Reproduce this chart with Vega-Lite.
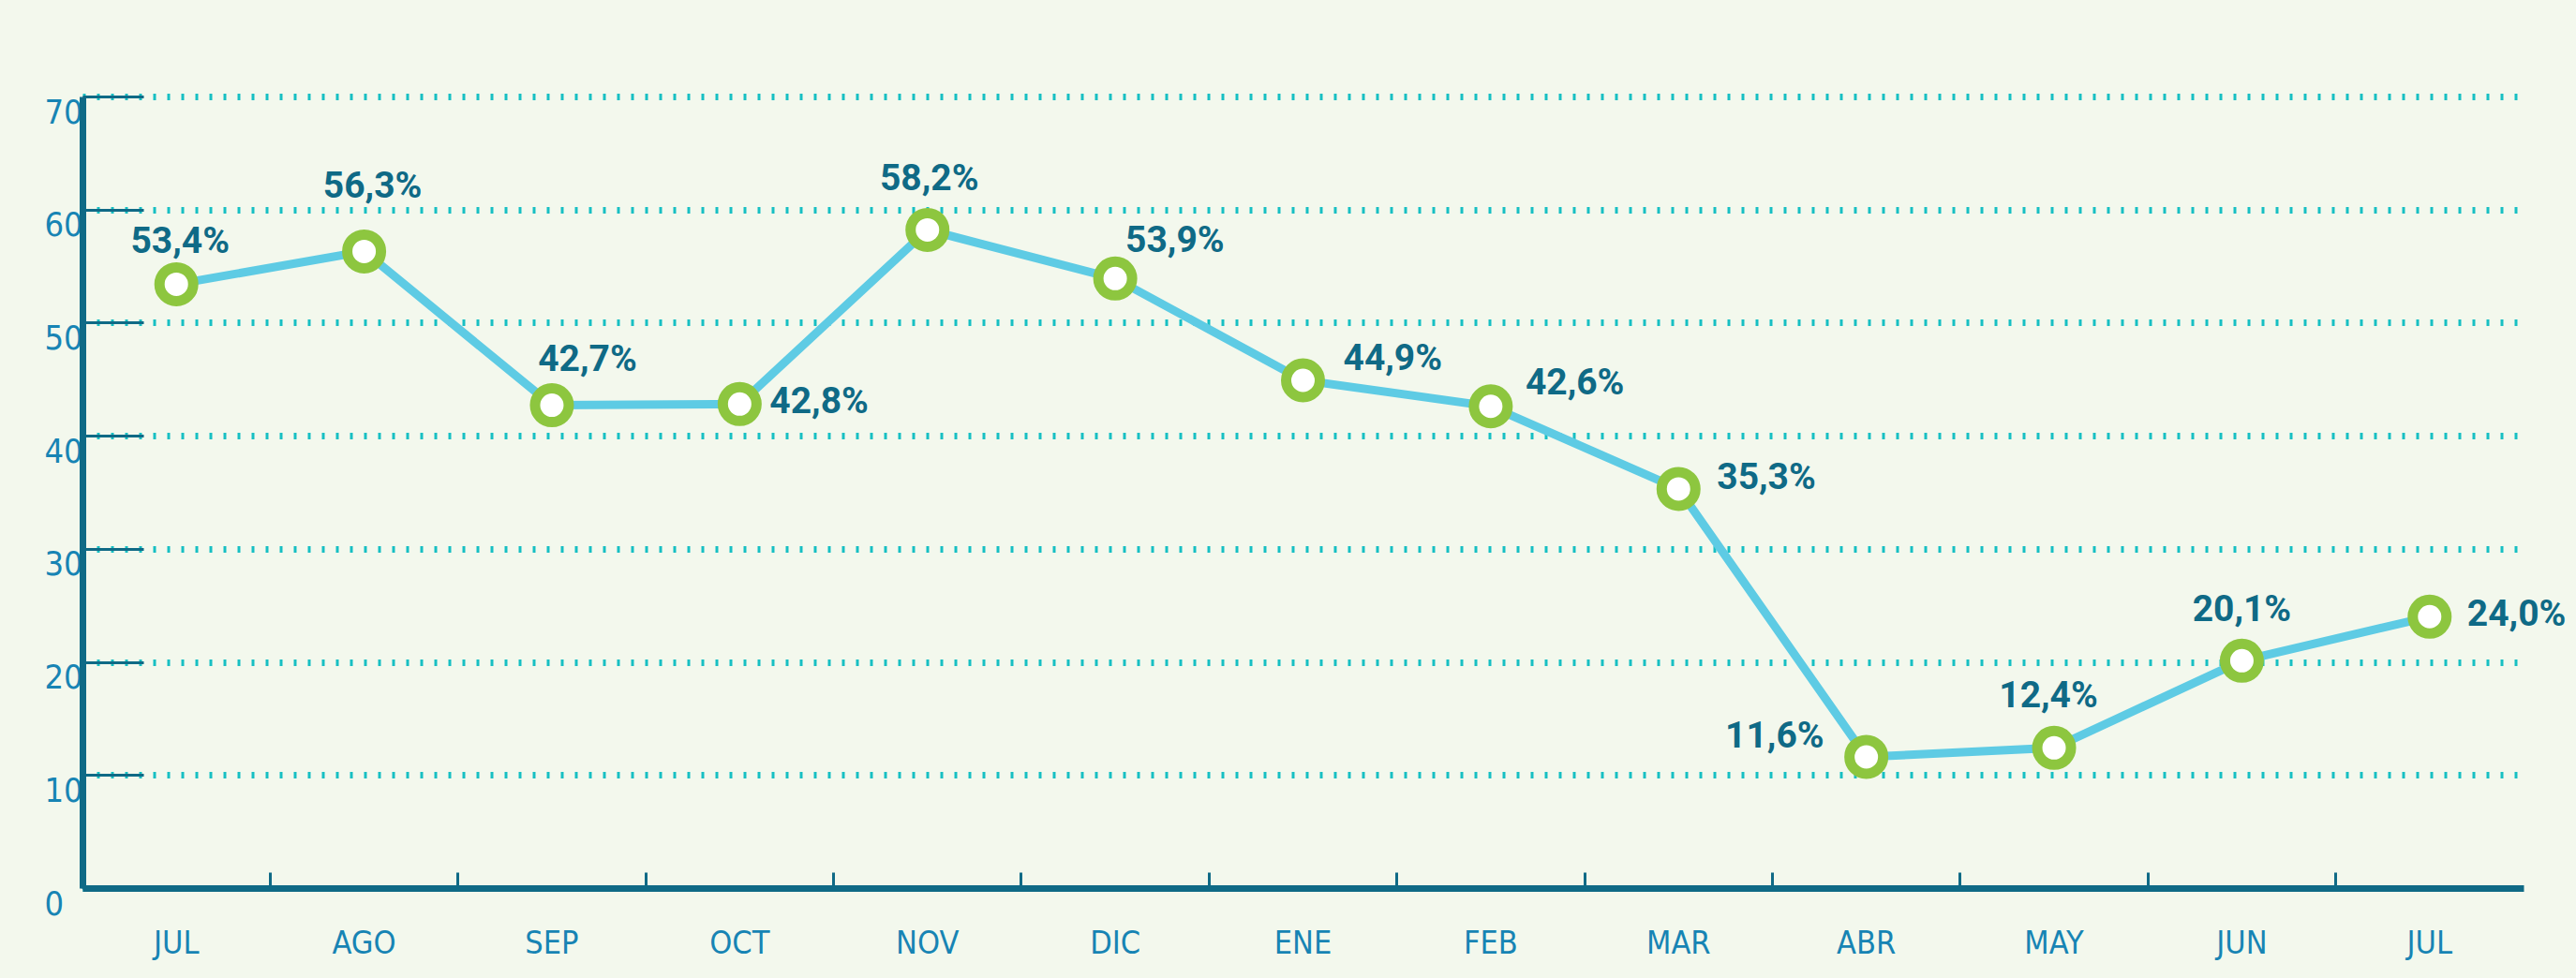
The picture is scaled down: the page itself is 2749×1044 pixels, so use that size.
{
  "$schema": "https://vega.github.io/schema/vega-lite/v6.json",
  "autosize": {"type": "none"},
  "padding": {"left": 88, "top": 103, "right": 56, "bottom": 96},
  "width": 2605,
  "height": 845,
  "background": "#f3f8ed",
  "config": {
    "view": {"stroke": null},
    "text": {"font": "Roboto", "fontWeight": "bold", "fontSize": 39, "fill": "#0f6a86", "baseline": "alphabetic"}
  },
  "data": {
    "values": [
      {"periodo": "JUL 2019", "valor": 53.4, "etiqueta": "53,4%"},
      {"periodo": "AGO 2019", "valor": 56.3, "etiqueta": "56,3%"},
      {"periodo": "SEP 2019", "valor": 42.7, "etiqueta": "42,7%"},
      {"periodo": "OCT 2019", "valor": 42.8, "etiqueta": "42,8%"},
      {"periodo": "NOV 2019", "valor": 58.2, "etiqueta": "58,2%"},
      {"periodo": "DIC 2019", "valor": 53.9, "etiqueta": "53,9%"},
      {"periodo": "ENE 2020", "valor": 44.9, "etiqueta": "44,9%"},
      {"periodo": "FEB 2020", "valor": 42.6, "etiqueta": "42,6%"},
      {"periodo": "MAR 2020", "valor": 35.3, "etiqueta": "35,3%"},
      {"periodo": "ABR 2020", "valor": 11.6, "etiqueta": "11,6%"},
      {"periodo": "MAY 2020", "valor": 12.4, "etiqueta": "12,4%"},
      {"periodo": "JUN 2020", "valor": 20.1, "etiqueta": "20,1%"},
      {"periodo": "JUL 2020", "valor": 24.0, "etiqueta": "24,0%"}
    ]
  },
  "encoding": {
    "x": {
      "field": "periodo", "type": "ordinal", "sort": null, "bandPosition": 0.5,
      "scale": {"type": "band", "paddingInner": 0, "paddingOuter": 0},
      "axis": {
        "title": null, "labelAngle": 0, "bandPosition": 0,
        "labelExpr": "split(datum.value, ' ')[0]",
        "labelFont": "DejaVu Sans Condensed", "labelFontSize": 34, "labelColor": "#1784b4",
        "labelBaseline": "top", "labelPadding": 59,
        "domainColor": "#0f6a86", "domainWidth": 7,
        "ticks": true, "tickSize": -17, "tickWidth": 3, "tickColor": "#0f6a86",
        "grid": false
      }
    },
    "y": {
      "field": "valor", "type": "quantitative",
      "scale": {"domain": [0, 70], "nice": false, "zero": true},
      "axis": {
        "title": null, "values": [0, 10, 20, 30, 40, 50, 60, 70],
        "labelFont": "DejaVu Sans Condensed", "labelFontSize": 36, "labelColor": "#1784b4",
        "labelAlign": "left", "labelBaseline": "top", "labelPadding": 106,
        "domainColor": "#0f6a86", "domainWidth": 7,
        "ticks": true, "tickSize": -65, "tickWidth": 3, "tickColor": "#0f6a86",
        "grid": true, "gridColor": "#17bfc3", "gridWidth": 7, "gridDash": [3, 12]
      }
    }
  },
  "layer": [
    {"mark": {"type": "line", "stroke": "#5ecbe4", "strokeWidth": 9}},
    {"mark": {"type": "point", "shape": "circle", "filled": true, "fill": "#ffffff", "stroke": "#8dc63f", "strokeWidth": 11, "size": 1296, "opacity": 1}},
    {"transform": [{"filter": "datum.periodo == 'JUL 2019'"}], "mark": {"type": "text", "align": "center", "dx": 4, "dy": -33}, "encoding": {"text": {"field": "etiqueta"}}},
    {"transform": [{"filter": "datum.periodo == 'AGO 2019'"}], "mark": {"type": "text", "align": "center", "dx": 9, "dy": -57}, "encoding": {"text": {"field": "etiqueta"}}},
    {"transform": [{"filter": "datum.periodo == 'SEP 2019'"}], "mark": {"type": "text", "align": "center", "dx": 38, "dy": -37}, "encoding": {"text": {"field": "etiqueta"}}},
    {"transform": [{"filter": "datum.periodo == 'OCT 2019'"}], "mark": {"type": "text", "align": "left", "dx": 32, "dy": 10}, "encoding": {"text": {"field": "etiqueta"}}},
    {"transform": [{"filter": "datum.periodo == 'NOV 2019'"}], "mark": {"type": "text", "align": "center", "dx": 2, "dy": -42}, "encoding": {"text": {"field": "etiqueta"}}},
    {"transform": [{"filter": "datum.periodo == 'DIC 2019'"}], "mark": {"type": "text", "align": "left", "dx": 11, "dy": -28}, "encoding": {"text": {"field": "etiqueta"}}},
    {"transform": [{"filter": "datum.periodo == 'ENE 2020'"}], "mark": {"type": "text", "align": "left", "dx": 43, "dy": -11}, "encoding": {"text": {"field": "etiqueta"}}},
    {"transform": [{"filter": "datum.periodo == 'FEB 2020'"}], "mark": {"type": "text", "align": "left", "dx": 37, "dy": -13}, "encoding": {"text": {"field": "etiqueta"}}},
    {"transform": [{"filter": "datum.periodo == 'MAR 2020'"}], "mark": {"type": "text", "align": "left", "dx": 41, "dy": 0}, "encoding": {"text": {"field": "etiqueta"}}},
    {"transform": [{"filter": "datum.periodo == 'ABR 2020'"}], "mark": {"type": "text", "align": "right", "dx": -45, "dy": -10}, "encoding": {"text": {"field": "etiqueta"}}},
    {"transform": [{"filter": "datum.periodo == 'MAY 2020'"}], "mark": {"type": "text", "align": "center", "dx": -6, "dy": -43}, "encoding": {"text": {"field": "etiqueta"}}},
    {"transform": [{"filter": "datum.periodo == 'JUN 2020'"}], "mark": {"type": "text", "align": "center", "dx": 0, "dy": -42}, "encoding": {"text": {"field": "etiqueta"}}},
    {"transform": [{"filter": "datum.periodo == 'JUL 2020'"}], "mark": {"type": "text", "align": "left", "dx": 40, "dy": 10}, "encoding": {"text": {"field": "etiqueta"}}}
  ]
}
